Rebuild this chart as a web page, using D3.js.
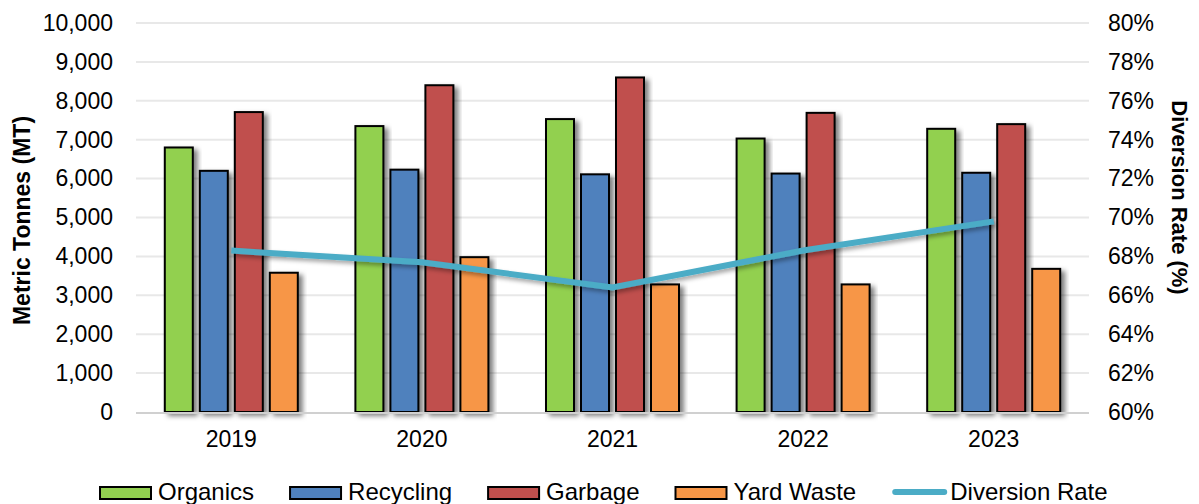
<!DOCTYPE html>
<html>
<head>
<meta charset="utf-8">
<script src="https://cdn.jsdelivr.net/npm/d3@7"></script>
<style>
  html, body { margin: 0; padding: 0; background: #fff; }
  svg { display: block; font-family: "Liberation Sans", Arial, sans-serif; }
</style>
</head>
<body>
<svg id="chart" width="1199" height="504"></svg>
<script>
// Yearly tonnages by stream and the resulting diversion rate
const years = ["2019", "2020", "2021", "2022", "2023"];
const seriesNames = ["Organics", "Recycling", "Garbage", "Yard Waste"];
const organics  = [6800, 7350, 7530, 7030, 7280];
const recycling = [6200, 6230, 6110, 6130, 6150];
const garbage   = [7710, 8400, 8600, 7690, 7400];
const yardWaste = [3580, 3980, 3280, 3280, 3680];
const diversionRate = [68.3, 67.7, 66.4, 68.3, 69.8];
const leftTicks = [0, 1000, 2000, 3000, 4000, 5000, 6000, 7000, 8000, 9000, 10000];
const rightTicks = [60, 62, 64, 66, 68, 70, 72, 74, 76, 78, 80];
const lineName = "Diversion Rate";

const seriesValues = [organics, recycling, garbage, yardWaste];
const colors = ["#92D050", "#4F81BD", "#C0504D", "#F79646"];
const lineColor = "#4BACC6";

const svg = d3.select("#chart");
const plot = { left: 136, right: 1089, top: 23, bottom: 412 };

const x0 = d3.scaleBand().domain(years).range([plot.left, plot.right]).padding(0);
const x1 = d3.scaleBand().domain(seriesNames).range([-66.5, 66.5]).paddingInner(0.2).paddingOuter(0);
const yL = d3.scaleLinear().domain([0, 10000]).range([plot.bottom, plot.top]);
const yR = d3.scaleLinear().domain([60, 80]).range([plot.bottom, plot.top]);

// soft drop shadow used by bars and the line
const defs = svg.append("defs");
const f = defs.append("filter").attr("id", "shadow")
  .attr("x", "-30%").attr("y", "-10%").attr("width", "160%").attr("height", "130%");
f.append("feDropShadow").attr("dx", 4).attr("dy", 3).attr("stdDeviation", 2.5)
  .attr("flood-color", "#000").attr("flood-opacity", 0.5);
const fl = defs.append("filter").attr("id", "lineShadow")
  .attr("x", "-10%").attr("y", "-50%").attr("width", "120%").attr("height", "200%");
fl.append("feDropShadow").attr("dx", 2).attr("dy", 3).attr("stdDeviation", 2)
  .attr("flood-color", "#000").attr("flood-opacity", 0.35);

// gridlines
svg.append("g").selectAll("line").data(leftTicks.filter(d => d > 0)).join("line")
  .attr("x1", plot.left).attr("x2", plot.right)
  .attr("y1", d => yL(d)).attr("y2", d => yL(d))
  .attr("stroke", "#E8E8E8").attr("stroke-width", 2);

// left axis
const leftAxis = svg.append("g").attr("transform", `translate(${plot.left},0)`)
  .call(d3.axisLeft(yL).tickValues(leftTicks).tickFormat(d3.format(",")).tickSize(0).tickPadding(23));
leftAxis.select(".domain").remove();
leftAxis.selectAll("text").attr("font-size", 23).attr("fill", "#000")
  .attr("font-family", "Liberation Sans, Arial, sans-serif");

// right axis
const rightAxis = svg.append("g").attr("transform", `translate(${plot.right},0)`)
  .call(d3.axisRight(yR).tickValues(rightTicks).tickFormat(d => d + "%").tickSize(0).tickPadding(19));
rightAxis.select(".domain").remove();
rightAxis.selectAll("text").attr("font-size", 23).attr("fill", "#000")
  .attr("font-family", "Liberation Sans, Arial, sans-serif");

// bars
const groups = svg.append("g").selectAll("g").data(years).join("g")
  .attr("transform", d => `translate(${x0(d) + x0.bandwidth() / 2},0)`);
groups.selectAll("rect")
  .data((yr, i) => seriesNames.map((s, j) => ({ s, j, v: seriesValues[j][i] })))
  .join("rect")
  .attr("x", d => x1(d.s))
  .attr("width", x1.bandwidth())
  .attr("y", d => yL(d.v))
  .attr("height", d => yL(0) - yL(d.v))
  .attr("fill", d => colors[d.j])
  .attr("stroke", "#000").attr("stroke-width", 2)
  .attr("filter", "url(#shadow)");

// bottom axis line
svg.append("line").attr("x1", plot.left).attr("x2", plot.right)
  .attr("y1", plot.bottom + 1).attr("y2", plot.bottom + 1)
  .attr("stroke", "#D0D0D0").attr("stroke-width", 2);

// x axis labels
const xAxis = svg.append("g").attr("transform", `translate(0,${plot.bottom})`)
  .call(d3.axisBottom(x0).tickSize(0).tickPadding(19));
xAxis.select(".domain").remove();
xAxis.selectAll("text").attr("font-size", 23).attr("fill", "#000")
  .attr("font-family", "Liberation Sans, Arial, sans-serif");

// diversion rate line
const line = d3.line()
  .x((d, i) => x0(years[i]) + x0.bandwidth() / 2)
  .y(d => yR(d));
svg.append("path").datum(diversionRate)
  .attr("d", line)
  .attr("fill", "none").attr("stroke", lineColor).attr("stroke-width", 6)
  .attr("stroke-linejoin", "miter").attr("stroke-linecap", "butt")
  .attr("filter", "url(#lineShadow)");

// axis titles
svg.append("text")
  .attr("transform", `translate(30,${(plot.top + plot.bottom) / 2 + 3}) rotate(-90)`)
  .attr("text-anchor", "middle").attr("font-size", 23).attr("font-weight", "bold")
  .text("Metric Tonnes (MT)");
svg.append("text")
  .attr("transform", `translate(1172,${(plot.top + plot.bottom) / 2 - 20}) rotate(90)`)
  .attr("text-anchor", "middle").attr("font-size", 22).attr("font-weight", "bold")
  .text("Diversion Rate (%)");

// legend
const legend = svg.append("g");
let lx = 100;
const legendItems = seriesNames.map((s, j) => ({ name: s, color: colors[j], type: "rect" }))
  .concat([{ name: lineName, color: lineColor, type: "line" }]);
legendItems.forEach(item => {
  const g = legend.append("g");
  if (item.type === "rect") {
    g.append("rect").attr("x", lx).attr("y", 487).attr("width", 51).attr("height", 12)
      .attr("fill", item.color).attr("stroke", "#000").attr("stroke-width", 2);
  } else {
    g.append("line").attr("x1", lx + 3).attr("x2", lx + 52).attr("y1", 492).attr("y2", 492)
      .attr("stroke", item.color).attr("stroke-width", 6).attr("stroke-linecap", "round");
  }
  const t = g.append("text").attr("x", lx + 58).attr("y", 500)
    .attr("font-size", 24).attr("fill", "#000").text(item.name);
  lx += 58 + t.node().getComputedTextLength() + 36;
});
</script>
</body>
</html>
